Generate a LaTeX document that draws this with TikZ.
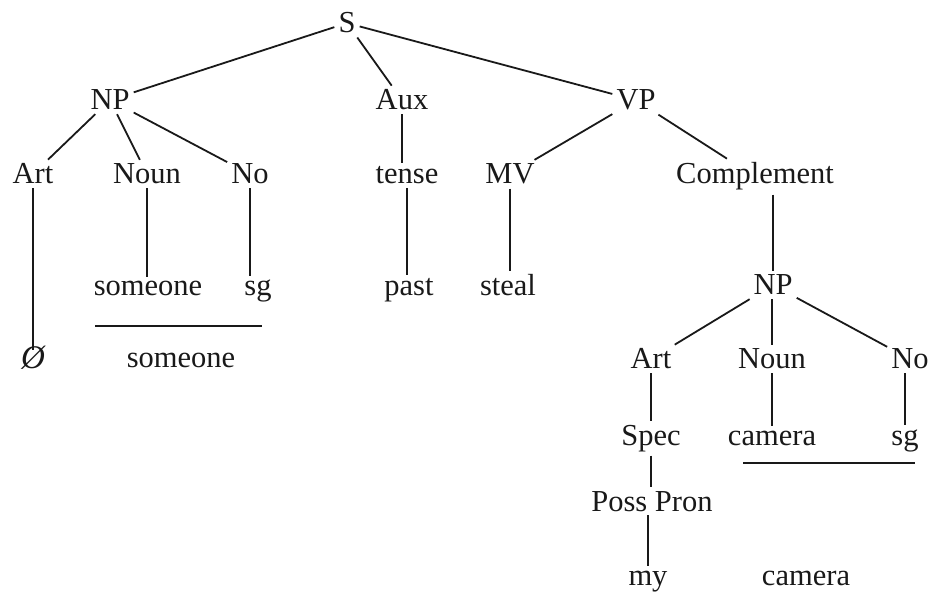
\documentclass[tikz,border=0pt]{standalone}
\usepackage{fontspec}
\setmainfont{Liberation Serif}
\begin{document}
\begin{tikzpicture}[x=1pt,y=-1pt,
  lab/.style={font=\fontsize{30.5}{33}\selectfont, inner sep=4pt, anchor=base, text=black!90},
  edge/.style={line width=1.8pt, black!90},
  bar/.style={line width=1.8pt, black!90}]
\useasboundingbox (0,0) rectangle (937,601);
% level 0
\node[lab] (S) at (347,33) {S};
% level 1
\node[lab] (NP) at (110,110) {NP};
\node[lab] (Aux) at (402,110) {Aux};
\node[lab] (VP) at (636,110) {VP};
% level 2
\node[lab] (Art) at (33,184) {Art};
\node[lab] (Noun) at (147,184) {Noun};
\node[lab] (No) at (250,184) {No};
\node[lab] (tense) at (407,184) {tense};
\node[lab] (MV) at (510,184) {MV};
\node[lab] (Comp) at (755,184) {Complement};
% level 3
\node[lab] (someone) at (148,296) {someone};
\node[lab] (sg) at (258,296) {sg};
\node[lab] (past) at (409,296) {past};
\node[lab] (steal) at (508,296) {steal};
\node[lab] (NPb) at (773,295) {NP};
% level 4
\node[lab] (null) at (33,369) {\fontsize{33}{35}\selectfont\itshape Ø};
\node[lab] (someoneb) at (181,368) {someone};
\node[lab] (Artb) at (651,369) {Art};
\node[lab] (Nounb) at (772,369) {Noun};
\node[lab] (Nob) at (910,369) {No};
% level 5
\node[lab] (Spec) at (651,445) {Spec};
\node[lab] (camera) at (772,445) {camera};
\node[lab] (sgb) at (905,445) {sg};
% level 6
\node[lab] (Poss) at (652,511) {Poss Pron};
% level 7
\node[lab] (my) at (648,585) {my};
\node[lab] (camerab) at (806,585) {camera};
% edges
\draw[edge] (S) -- (NP);
\draw[edge] (S) -- (Aux);
\draw[edge] (S) -- (VP);
\draw[edge] (NP) -- (Art);
\draw[edge] (NP) -- (Noun);
\draw[edge] (NP) -- (No);
\draw[edge] (Aux.south) -- (Aux.south |- tense.north);
\draw[edge] (VP) -- (MV);
\draw[edge] (VP) -- (Comp);
\draw[edge] (Art.south) -- ([yshift=-8pt]Art.south |- null.north);
\draw[edge] (Noun.south) -- (Noun.south |- someone.north);
\draw[edge] (No.south) -- (No.south |- sg.north);
\draw[edge] (tense.south) -- (tense.south |- past.north);
\draw[edge] (MV.south) -- (MV.south |- steal.north);
\draw[edge] (NPb.north |- Comp.south) -- (NPb.north);
\draw[edge] (NPb) -- (Artb);
\draw[edge] (NPb.south -| Nounb.north) -- (Nounb.north);
\draw[edge] (NPb) -- (Nob);
\draw[edge] (Artb.south) -- (Artb.south |- Spec.north);
\draw[edge] (Nounb.south) -- (Nounb.south |- camera.north);
\draw[edge] (Nob.south -| sgb.north) -- (sgb.north);
\draw[edge] (Spec.south) -- (Spec.south |- Poss.north);
\draw[edge] (Poss.south -| my.north) -- (my.north);
% bracket lines
\coordinate (b1l) at (95,326);
\coordinate (b1r) at (262,326);
\coordinate (b2l) at (743,463);
\coordinate (b2r) at (915,463);
\draw[bar] (b1l) -- (b1r);
\draw[bar] (b2l) -- (b2r);
\end{tikzpicture}
\end{document}
